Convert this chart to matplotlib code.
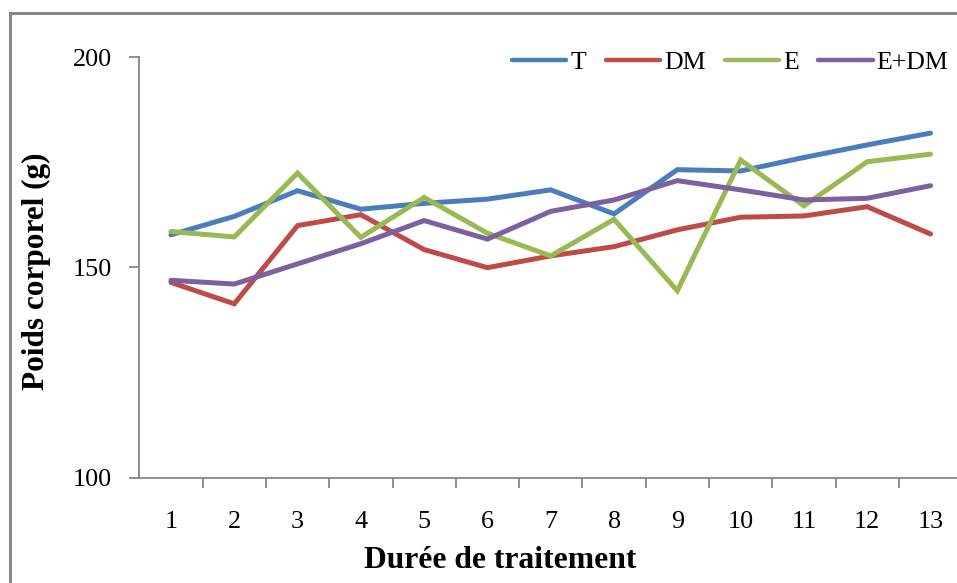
import matplotlib
matplotlib.use("Agg")
import matplotlib.pyplot as plt
from matplotlib.patches import Rectangle

# Body weight per treatment group over the treatment period
days = list(range(1, 14))
weight_T = [157.7, 162.1, 168.2, 163.8, 165.2, 166.2, 168.4, 162.7, 173.2, 172.9, 176.1, 179.1, 181.9]
weight_DM = [146.4, 141.3, 159.9, 162.5, 154.2, 149.9, 152.7, 154.9, 158.9, 161.9, 162.2, 164.4, 157.9]
weight_E = [158.5, 157.2, 172.4, 157.1, 166.6, 158.1, 152.7, 161.4, 144.4, 175.5, 164.6, 175.1, 176.9]
weight_EDM = [146.9, 146.0, 150.8, 155.6, 161.1, 156.7, 163.3, 166.0, 170.6, 168.4, 166.0, 166.4, 169.4]

series = [
    ("T", weight_T, "#4A7EBB"),
    ("DM", weight_DM, "#BE4B48"),
    ("E", weight_E, "#98B954"),
    ("E+DM", weight_EDM, "#7D60A0"),
]
y_ticks = [100, 150, 200]

plt.rcParams["font.family"] = ["Liberation Serif", "DejaVu Serif"]
W, H = 957, 583
fig = plt.figure(figsize=(W / 100, H / 100), dpi=100)

# outer chart frame
fig.patches.append(Rectangle((10 / W, -0.2), 1.2, 1.2 - 12.5 / H,
                             transform=fig.transFigure, fill=False,
                             edgecolor="#878787", linewidth=2.2))

left, right, top, bottom = 139.3, 962.2, 57.0, 477.5
ax = fig.add_axes([left / W, (H - bottom) / H, (right - left) / W, (bottom - top) / H])

for name, vals, col in series:
    ax.plot(days, vals, color=col, linewidth=3.6, label=name,
            solid_joinstyle="miter", solid_capstyle="round")

axis_col = "#868686"
for side in ("top", "right"):
    ax.spines[side].set_visible(False)
for side in ("left", "bottom"):
    ax.spines[side].set_color(axis_col)
    ax.spines[side].set_linewidth(1.3)

ax.set_xlim(0.5, 13.5)
ax.set_ylim(100, 200)
ax.set_yticks(y_ticks)
ax.set_xticks(days)
ax.set_xticks([d + 0.5 for d in days[:-1]], minor=True)
ax.tick_params(axis="y", direction="out", length=7, width=1.3, color=axis_col,
               labelsize=18.8, pad=13)
ax.tick_params(axis="x", which="major", length=0, labelsize=18.8, pad=24)
ax.tick_params(axis="x", which="minor", direction="out", length=7, width=1.3,
               color=axis_col)

fig.text(500 / W, 1 - 560 / H, "Durée de traitement", ha="center", va="center",
         fontsize=22.8, fontweight="bold")
fig.text(36 / W, 1 - 271 / H, "Poids corporel (g)", ha="center", va="center",
         rotation=90, fontsize=22.5, fontweight="bold")

leg = ax.legend(loc="center left", bbox_to_anchor=(512 / W, 1 - 62 / H),
                bbox_transform=fig.transFigure, ncol=4, frameon=False,
                fontsize=18.6, handlelength=2.1, handletextpad=0.16,
                columnspacing=0.75, borderpad=0, borderaxespad=0)
for h in leg.get_lines():
    h.set_linewidth(3.2)

fig.savefig("out.png", dpi=100)
